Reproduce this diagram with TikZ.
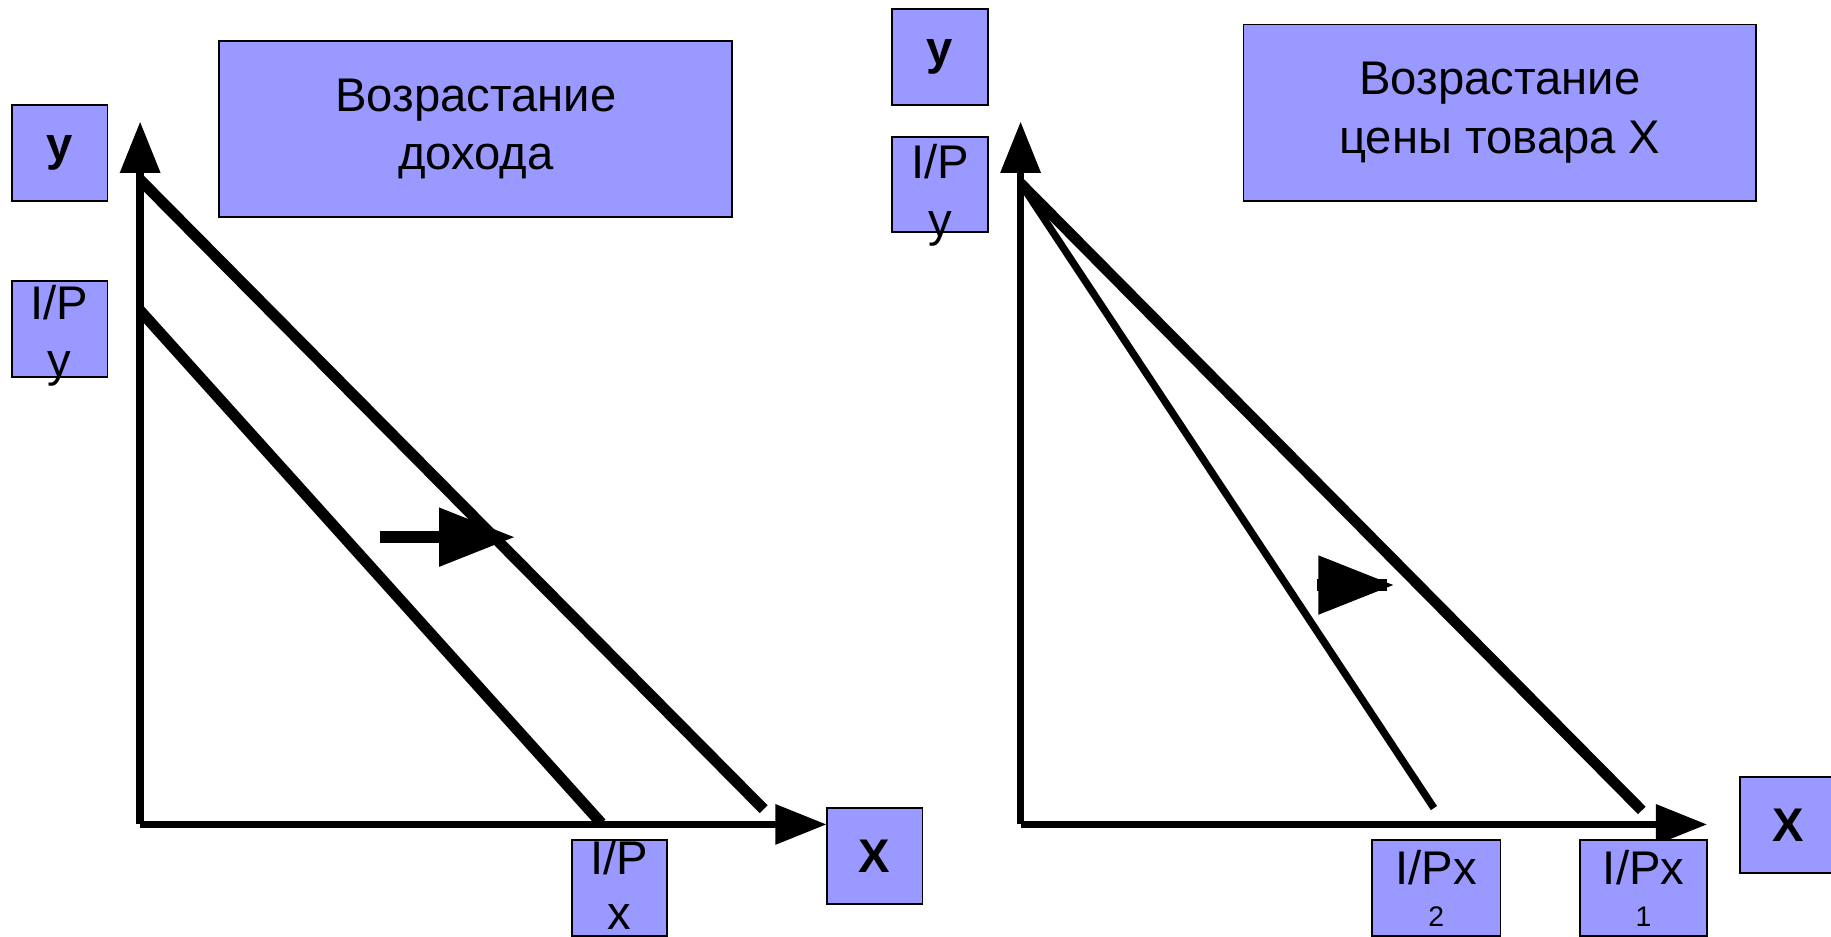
\documentclass[tikz,border=0pt]{standalone}
\usepackage{fontspec}
\setmainfont{Liberation Sans}
\usetikzlibrary{arrows.meta,positioning}
\definecolor{boxblue}{RGB}{153,153,255}

\begin{document}
\begin{tikzpicture}[x=0.01cm, y=-0.01cm,
    tag/.style={draw, line width=0.45pt, fill=boxblue, minimum width=0.82cm, minimum height=0.82cm, inner sep=0pt, font=\fontsize{11.5}{14}\selectfont\bfseries},
    tagtext/.style={anchor=north, inner sep=0pt, align=center, font=\fontsize{11.5}{13.9}\selectfont},
    title/.style={draw, line width=0.45pt, fill=boxblue, minimum width=4.39cm, minimum height=1.51cm, align=center, font=\fontsize{11.5}{14.2}\selectfont},
    axis/.style={line width=1.9pt, -{Triangle[length=0.44cm, width=0.33cm]}},
    budget/.style={line width=2.7pt},
    shiftarrow/.style={line width=2.8pt, -{Triangle[length=0.65cm, width=0.48cm]}}]

    \useasboundingbox (0,0) rectangle (1568,802);

    % left: income grows
    \coordinate (oL) at (120,706);
    \coordinate (ytipL) at (120,104);
    \coordinate (xtipL) at (708,706);
    \draw [axis] (oL) -- (ytipL);
    \draw [axis] (oL) -- (xtipL);

    \node [title] (titleL) at (407.5,110.5) {Возрастание\\дохода};
    \node [tag] (yL) at (51,131) {y};
    \node [tag] (ipyL) at (51,282) {};
    \node [tagtext, below=1pt of ipyL.north] {I/P\\y};
    \node [tag] (ipxL) at (530.5,760.5) {};
    \node [tagtext, below=0pt of ipxL.north, font=\fontsize{11.5}{13.5}\selectfont] {I/P\\x};
    \node [tag] (xL) at (749,733) {X};

    % budget lines, old and new
    \coordinate (lowA) at (120,266);
    \coordinate (lowB) at (515,705);
    \coordinate (upA) at (120,154);
    \coordinate (upB) at (654,693);
    \draw [budget] (lowA) -- (lowB);
    \draw [budget] (upA) -- (upB);

    % shift to the right
    \coordinate (sL) at (325,460);
    \coordinate (eL) at (441,460);
    \draw [shiftarrow] (sL) -- (eL);

    % right: price of X grows
    \coordinate (oR) at (874,706);
    \coordinate (ytipR) at (874,104);
    \coordinate (xtipR) at (1462,706);
    \draw [axis] (oR) -- (ytipR);
    \draw [axis] (oR) -- (xtipR);

    \node [title] (titleR) at (1284.5,96.5) {Возрастание\\цены товара X};
    \node [tag] (yR) at (805,49) {y};
    \node [tag] (ipyR) at (805,158) {};
    \node [tagtext, below=2pt of ipyR.north] {I/P\\y};
    \node [tag, minimum width=1.1cm] (ipx2) at (1230,760.5) {};
    \node [tagtext, below=2.5pt of ipx2.north] {I/Px\\[-3.7pt]{\fontsize{6.9}{8}\selectfont 2}};
    \node [tag, minimum width=1.09cm] (ipx1) at (1407.5,760.5) {};
    \node [tagtext, below=2.5pt of ipx1.north] {I/Px\\[-3.7pt]{\fontsize{6.9}{8}\selectfont 1}};
    \node [tag] (xR) at (1531,706.5) {X};

    % budget lines, pivot at I/Py
    \coordinate (pivot) at (874,157);
    \coordinate (thinB) at (1228,692);
    \coordinate (thickB) at (1406,694);
    \draw [line width=1.8pt] (pivot) -- (thinB);
    \draw [line width=2.6pt] (pivot) -- (thickB);

    % turn of the line
    \coordinate (sR) at (1128,501);
    \coordinate (eR) at (1194,501);
    \draw [shiftarrow] (sR) -- (eR);
    \draw [line width=2.8pt] (1180,501) -- (1188,501);
\end{tikzpicture}
\end{document}
